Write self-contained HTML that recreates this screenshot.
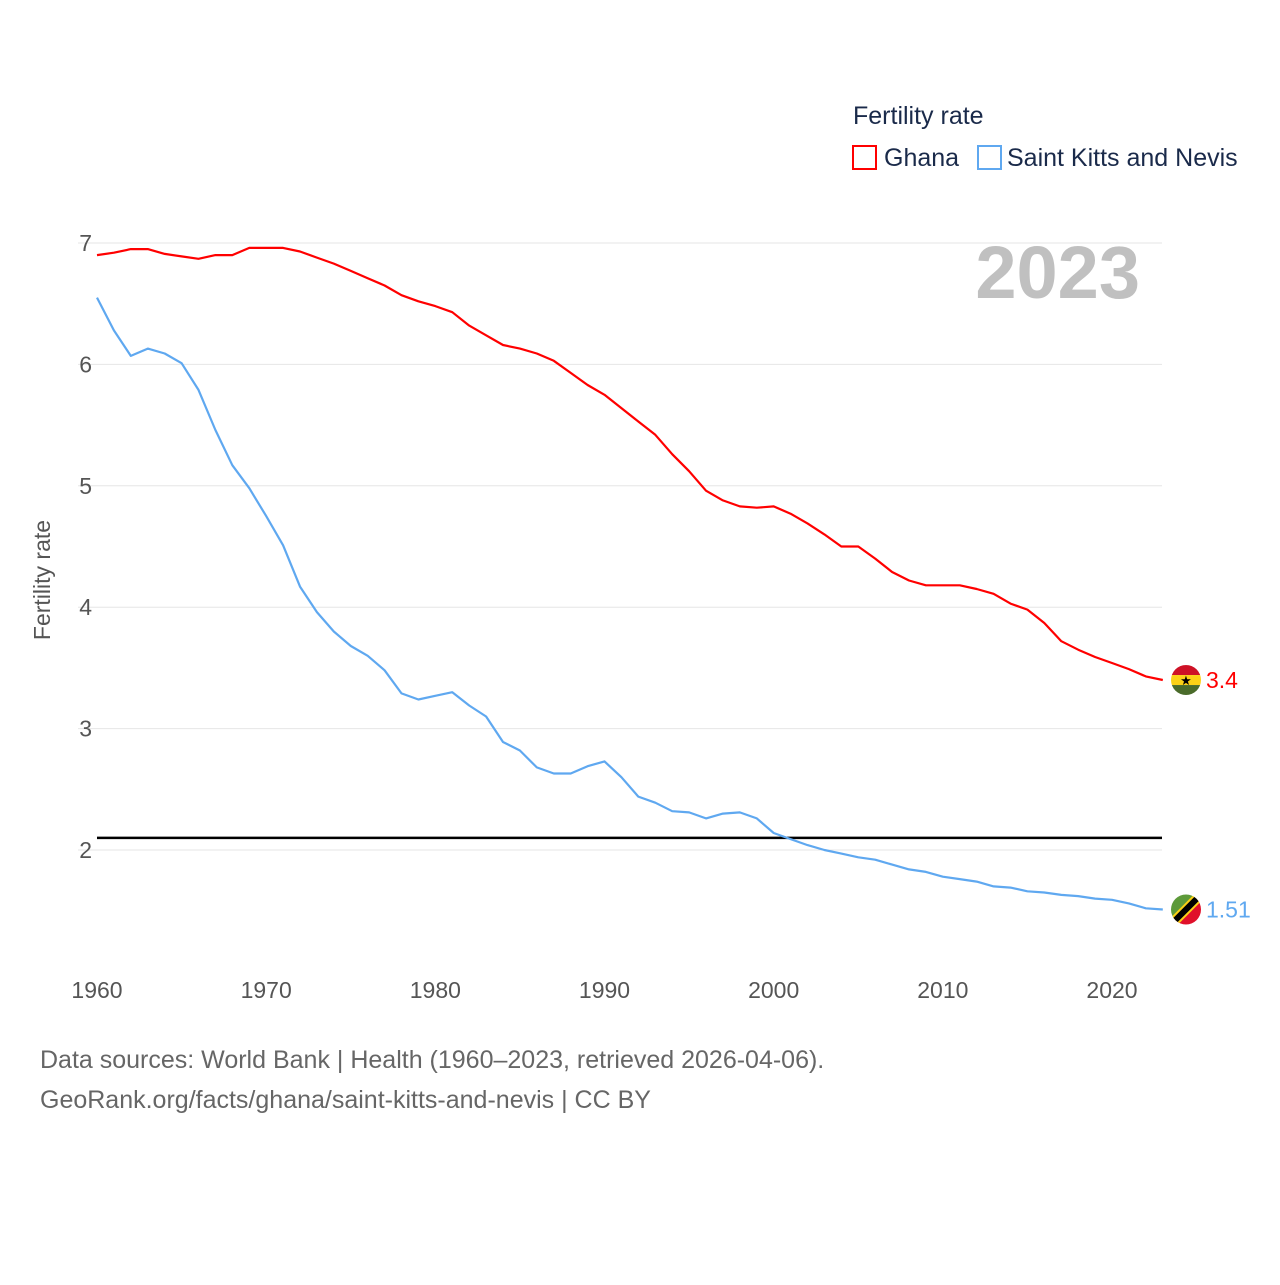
<!DOCTYPE html>
<html><head><meta charset="utf-8"><style>
body{margin:0;background:#fff;width:1280px;height:1280px;overflow:hidden;font-family:"Liberation Sans",sans-serif}
svg text{font-family:"Liberation Sans",sans-serif}
</style></head><body>
<svg id="chart" width="1280" height="1280" viewBox="0 0 1280 1280">
<g id="grid"></g>
<g id="axes"></g>
<text x="1140" y="298" text-anchor="end" font-size="74" font-weight="bold" fill="#c0c0c0">2023</text>
<text x="853" y="124" font-size="25" fill="#1a2a4a">Fertility rate</text>
<g><rect x="853" y="146" width="23" height="23" fill="none" stroke="#ff0000" stroke-width="2"/><text x="884" y="166" font-size="25" fill="#1a2a4a">Ghana</text></g>
<g><rect x="978" y="146" width="23" height="23" fill="none" stroke="#5fa8f0" stroke-width="2"/><text x="1007" y="166" font-size="25" fill="#1a2a4a">Saint Kitts and Nevis</text></g>
<text transform="translate(50,580) rotate(-90)" text-anchor="middle" font-size="23" fill="#555">Fertility rate</text>
<g id="series"></g>
<text x="40" y="1068" font-size="25" fill="#666">Data sources: World Bank | Health (1960–2023, retrieved 2026-04-06).</text>
<text x="40" y="1108" font-size="25" fill="#666">GeoRank.org/facts/ghana/saint-kitts-and-nevis | CC BY</text>
</svg>
<script>
const years=[];for(let y=1960;y<=2023;y++)years.push(y);
const ghana=[6.90,6.92,6.95,6.95,6.91,6.89,6.87,6.90,6.90,6.96,6.96,6.96,6.93,6.88,6.83,6.77,6.71,6.65,6.57,6.52,6.48,6.43,6.32,6.24,6.16,6.13,6.09,6.03,5.93,5.83,5.75,5.64,5.53,5.42,5.26,5.12,4.96,4.88,4.83,4.82,4.83,4.77,4.69,4.60,4.50,4.50,4.40,4.29,4.22,4.18,4.18,4.18,4.15,4.11,4.03,3.98,3.87,3.72,3.65,3.59,3.54,3.49,3.43,3.40];
const skn=[6.55,6.28,6.07,6.13,6.09,6.01,5.79,5.46,5.17,4.98,4.75,4.51,4.17,3.96,3.80,3.68,3.60,3.48,3.29,3.24,3.27,3.30,3.19,3.10,2.89,2.82,2.68,2.63,2.63,2.69,2.73,2.60,2.44,2.39,2.32,2.31,2.26,2.30,2.31,2.26,2.14,2.09,2.04,2.00,1.97,1.94,1.92,1.88,1.84,1.82,1.78,1.76,1.74,1.70,1.69,1.66,1.65,1.63,1.62,1.60,1.59,1.56,1.52,1.51];
const yTicks=[2,3,4,5,6,7];
const xTicks=[1960,1970,1980,1990,2000,2010,2020];
const replacement=2.1;
const NS="http://www.w3.org/2000/svg";
const xs=y=>97+(y-1960)*(1112-97)/60;
const ys=v=>850-(v-2)*(850-243)/5;
function mk(t,a,p){const e=document.createElementNS(NS,t);for(const k in a)e.setAttribute(k,a[k]);p.appendChild(e);return e;}
const grid=document.getElementById('grid'),axes=document.getElementById('axes'),ser=document.getElementById('series');
yTicks.forEach(v=>{
 const l=mk('line',{x1:78,x2:1162,y1:ys(v),y2:ys(v),stroke:'#e6e6e6','stroke-width':1},grid);
 
 
 const t=mk('text',{x:92,y:ys(v)+8,'text-anchor':'end','font-size':23,fill:'#555'},axes);t.textContent=v;
 
 
});
xTicks.forEach(y=>{
 const t=mk('text',{x:xs(y),y:998,'text-anchor':'middle','font-size':23,fill:'#555'},axes);t.textContent=y;
 
 
});
const rl=mk('line',{x1:97,x2:1162,y1:ys(replacement),y2:ys(replacement),stroke:'#000','stroke-width':2.5},ser);


function line(data,color,name){
 const d=data.map((v,i)=>(i?'L':'M')+xs(years[i]).toFixed(1)+','+ys(v).toFixed(1)).join('');
 const p=mk('path',{d:d,fill:'none',stroke:color,'stroke-width':2.2,'stroke-linejoin':'round'},ser);
 
 
}
line(ghana,'#ff0000','ghana');line(skn,'#5fa8f0','skn');
function endLabel(data,color,name,flag){
 const v=data[data.length-1],cx=1186,cy=ys(v);
 const g=mk('g',{},ser);
 
 
 const cp=mk('clipPath',{id:'c'+name},g);
 mk('circle',{cx:cx,cy:cy,r:15},cp);
 const inner=mk('g',{'clip-path':'url(#c'+name+')'},g);
 if(flag==='gh'){
  mk('rect',{x:cx-15,y:cy-15,width:30,height:10,fill:'#ce1126'},inner);
  mk('rect',{x:cx-15,y:cy-5,width:30,height:10,fill:'#fcd116'},inner);
  mk('rect',{x:cx-15,y:cy+5,width:30,height:10,fill:'#4a6b2a'},inner);
  const s=mk('text',{x:cx,y:cy+5,'text-anchor':'middle','font-size':13,fill:'#000'},inner);s.textContent='★';
 }else{
  mk('polygon',{points:`${cx-15},${cy-15} ${cx+15},${cy-15} ${cx-15},${cy+15}`,fill:'#5d9a3a'},inner);
  mk('polygon',{points:`${cx+15},${cy-15} ${cx+15},${cy+15} ${cx-15},${cy+15}`,fill:'#e0102a'},inner);
  mk('line',{x1:cx-15,y1:cy+15,x2:cx+15,y2:cy-15,stroke:'#fcd116','stroke-width':10},inner);
  mk('line',{x1:cx-15,y1:cy+15,x2:cx+15,y2:cy-15,stroke:'#000','stroke-width':6},inner);
 }
 const t=mk('text',{x:1206,y:cy+8,'font-size':23,fill:color},ser);t.textContent=v;
 
 
}
endLabel(ghana,'#ff0000','ghana','gh');endLabel(skn,'#5fa8f0','skn','kn');
</script>
</body></html>
